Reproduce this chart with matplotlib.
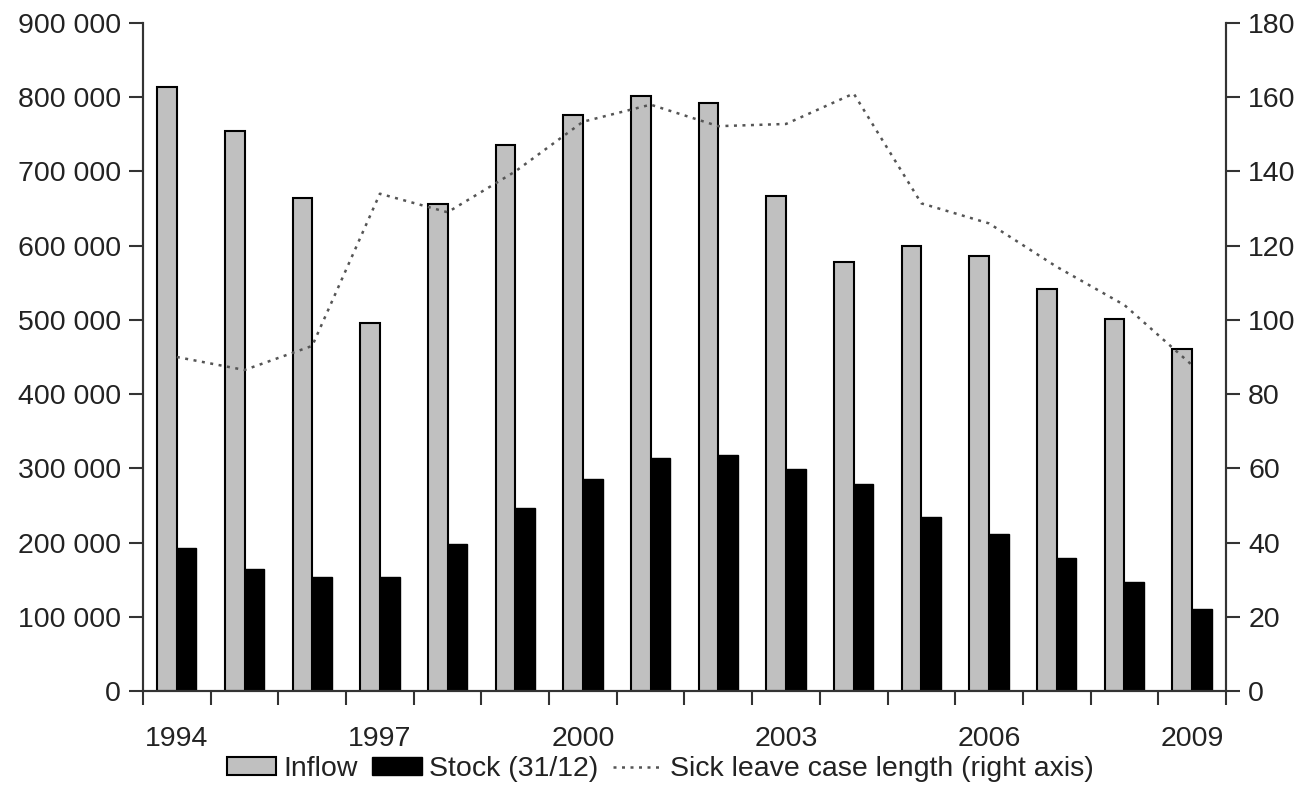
import numpy as np
import matplotlib.pyplot as plt
from matplotlib.ticker import FuncFormatter, FixedLocator

plt.rcParams['font.family'] = ['Liberation Sans', 'DejaVu Sans']

years = list(range(1994, 2010))
inflow = [814000, 755000, 664000, 496000, 656000, 735000, 776000, 801000,
          792000, 667000, 578000, 600000, 586000, 542000, 501000, 461000]
stock = [193000, 165000, 154000, 154000, 198000, 247000, 285000, 314000,
         318000, 299000, 279000, 235000, 211000, 179000, 147000, 111000]
case_length = [90, 86.5, 93, 134, 129, 140, 153.4, 158, 152.2, 152.8,
               161, 131.4, 126, 114.3, 104, 87.8]
label_years = [1994, 1997, 2000, 2003, 2006, 2009]

txt = '#222222'
fs = 20.5

fig = plt.figure(figsize=(13.07, 7.88), dpi=100)
ax = fig.add_axes([0.1094, 0.1231, 0.9380 - 0.1094, 0.9708 - 0.1231])
ax2 = ax.twinx()

x = np.arange(len(years))
w = 0.29
b1 = ax.bar(x - w / 2, inflow, w, color='#c0c0c0', edgecolor='black', linewidth=1.5, label='Inflow')
b2 = ax.bar(x + w / 2, stock, w, color='black', edgecolor='black', linewidth=1.0, label='Stock (31/12)')
l1, = ax2.plot(x, case_length, linestyle=(0, (1.2, 2.2)), color='#555555', linewidth=1.8,
               label='Sick leave case length (right axis)')

ax.set_xlim(-0.5, len(years) - 0.5)
ax.set_ylim(0, 900000)
ax2.set_ylim(0, 180)

ax.set_yticks(np.arange(0, 900001, 100000))
ax.yaxis.set_major_formatter(FuncFormatter(lambda v, p: f'{int(v):,}'.replace(',', ' ')))
ax2.set_yticks(np.arange(0, 181, 20))

# boundaries between year groups carry the tick marks, labels sit at group centres
ax.xaxis.set_major_locator(FixedLocator(np.arange(-0.5, len(years), 1.0)))
ax.set_xticklabels([])
ax.xaxis.set_minor_locator(FixedLocator([years.index(y) for y in label_years]))
ax.set_xticklabels([str(y) for y in label_years], minor=True)
ax.tick_params(axis='x', which='major', length=10, width=1.5, color='#333333', direction='out')
ax.tick_params(axis='x', which='minor', length=0, pad=25, labelsize=fs, labelcolor=txt)

ax.tick_params(axis='y', length=10, width=1.5, color='#333333', labelsize=fs, labelcolor=txt, pad=6)
ax2.tick_params(axis='y', length=10, width=1.5, color='#333333', labelsize=fs, labelcolor=txt, pad=6)

for a in (ax, ax2):
    a.spines['top'].set_visible(False)
    for s in ('left', 'right', 'bottom'):
        a.spines[s].set_linewidth(1.5)
        a.spines[s].set_color('#333333')

fig.legend([b1, b2, l1], [b1.get_label(), b2.get_label(), l1.get_label()],
           loc='lower center', bbox_to_anchor=(0.505, -0.025), ncol=3, frameon=False,
           fontsize=fs, handlelength=1.75, handleheight=0.6, handletextpad=0.25,
           columnspacing=0.5, labelcolor=txt)

fig.savefig('out.png', dpi=100)
